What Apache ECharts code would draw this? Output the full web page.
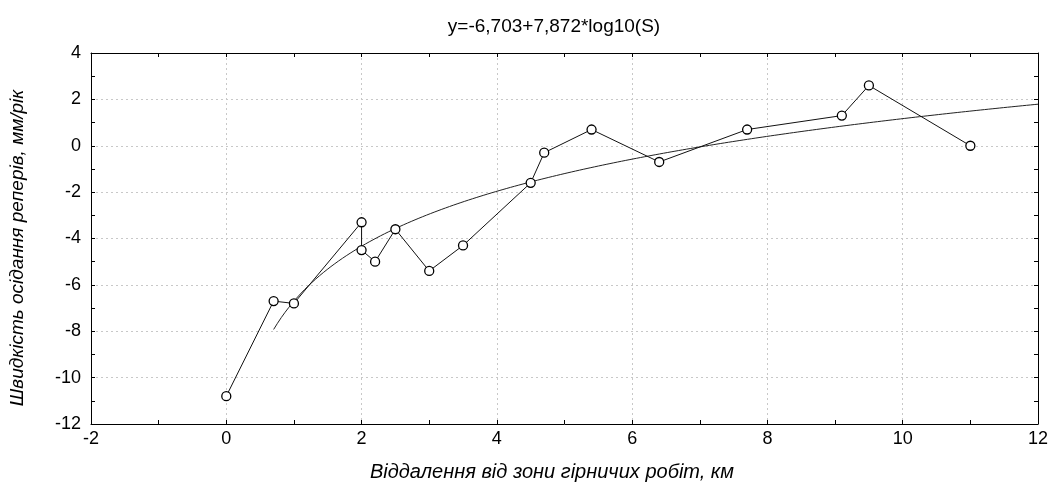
<!DOCTYPE html>
<html>
<head>
<meta charset="utf-8">
<script src="https://cdn.jsdelivr.net/npm/echarts@6/dist/echarts.min.js"></script>
<style>
html,body{margin:0;padding:0;background:#fff;}
#chart{width:1055px;height:491px;}
</style>
</head>
<body>
<div id="chart"></div>
<script>
// Observed data (distance km, settlement rate mm/year)
const distance = [0, 0.7, 1.0, 2.0, 2.0, 2.2, 2.5, 3.0, 3.5, 4.5, 4.7, 5.4, 6.4, 7.7, 9.1, 9.5, 11.0];
const rate     = [-10.8, -6.7, -6.8, -3.3, -4.5, -5.0, -3.6, -5.4, -4.3, -1.6, -0.3, 0.7, -0.7, 0.7, 1.3, 2.6, 0.0];
// Fit coefficients shown in the title: y = a + b*log10(S)
const fitA = -6.703;
const fitB = 7.872;
const fitStart = 0.7;
const fitEnd = 12;
const titleText = 'y=-6,703+7,872*log10(S)';
const xName = 'Віддалення від зони гірничих робіт, км';
const yName = 'Швидкість осідання реперів, мм/рік';

const pts = distance.map((d, i) => [d, rate[i]]);
const fit = [];
for (let k = 0; k <= 200; k++) {
  const s = fitStart + (fitEnd - fitStart) * k / 200;
  fit.push([s, fitA + fitB * Math.log10(s)]);
}

const font = 'Arial, "Liberation Sans", sans-serif';
const chart = echarts.init(document.getElementById('chart'), null, {renderer: 'canvas'});
const tickStyle = {show: true, inside: true, length: 4, lineStyle: {color: '#000', width: 1}};
const minorStyle = {show: true, splitNumber: 2, length: 4, lineStyle: {color: '#000', width: 1}};
chart.setOption({
  animation: false,
  backgroundColor: '#fff',
  title: {
    text: titleText, left: 549, textAlign: 'center', top: 12,
    textStyle: {fontFamily: font, fontSize: 19, fontWeight: 'normal', color: '#000'}
  },
  graphic: [{
    type: 'text', x: 552, y: 472,
    style: {text: xName, fontFamily: font, fontSize: 20, fontStyle: 'italic', fill: '#000',
            align: 'center', verticalAlign: 'middle'}
  }, {
    type: 'text', x: 18, y: 248, rotation: Math.PI / 2,
    style: {text: yName, fontFamily: font, fontSize: 19, fontStyle: 'italic', fill: '#000',
            align: 'center', verticalAlign: 'middle'}
  }],
  grid: {left: 91, right: 17, top: 53, bottom: 67},
  xAxis: [{
    type: 'value', min: -2, max: 12, interval: 2, position: 'bottom',
    axisLine: {show: true, onZero: false, lineStyle: {color: '#000', width: 1}},
    axisTick: tickStyle, minorTick: minorStyle,
    axisLabel: {fontFamily: font, fontSize: 18, color: '#000', margin: 6},
    splitLine: {show: true, lineStyle: {color: '#c8c8c8', type: [2, 3], width: 1}}
  }, {
    type: 'value', min: -2, max: 12, interval: 2, position: 'top',
    axisLine: {show: true, onZero: false, lineStyle: {color: '#000', width: 1}},
    axisTick: tickStyle, minorTick: minorStyle,
    axisLabel: {show: false}, splitLine: {show: false}
  }],
  yAxis: [{
    type: 'value', min: -12, max: 4, interval: 2, position: 'left',
    axisLine: {show: true, onZero: false, lineStyle: {color: '#000', width: 1}},
    axisTick: tickStyle, minorTick: minorStyle,
    axisLabel: {fontFamily: font, fontSize: 18, color: '#000', margin: 10},
    splitLine: {show: true, lineStyle: {color: '#c8c8c8', type: [2, 3], width: 1}}
  }, {
    type: 'value', min: -12, max: 4, interval: 2, position: 'right',
    axisLine: {show: true, onZero: false, lineStyle: {color: '#000', width: 1}},
    axisTick: tickStyle, minorTick: minorStyle,
    axisLabel: {show: false}, splitLine: {show: false}
  }],
  series: [{
    type: 'line', data: fit, showSymbol: false, symbol: 'none',
    lineStyle: {color: '#222', width: 1}, z: 2
  }, {
    type: 'line', data: pts, symbol: 'circle', symbolSize: 9,
    lineStyle: {color: '#111', width: 1},
    itemStyle: {color: '#fff', borderColor: '#000', borderWidth: 1.3}, z: 3
  }]
});
</script>
</body>
</html>
